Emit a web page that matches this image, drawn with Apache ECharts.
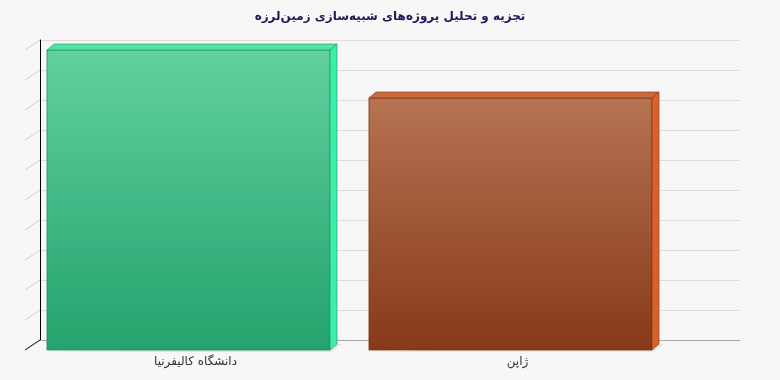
<!DOCTYPE html>
<html>
<head>
<meta charset="utf-8">
<script src="https://cdn.jsdelivr.net/npm/echarts@6/dist/echarts.min.js"></script>
<style>html,body{margin:0;padding:0;background:#f7f7f7}#c{width:780px;height:380px}</style>
</head>
<body>
<div id="c"></div>
<script>
const titleText = 'تجزیه و تحلیل پروژه‌های شبیه‌سازی زمین‌لرزه';
const categories = ['دانشگاه کالیفرنیا', 'ژاپن'];
const values = [100, 84];
const yTicks = [0, 10, 20, 30, 40, 50, 60, 70, 80, 90, 100];
const palettes = [
  {top: '#62d09f', bottom: '#23a36d', lid: '#4fe4a6', side: '#3eeea8', edge: '#1f8f5e'},
  {top: '#b77352', bottom: '#873919', lid: '#c9693e', side: '#d8622b', edge: '#7a3216'}
];

const chart = echarts.init(document.getElementById('c'), null, {renderer: 'canvas'});
const DX = 7, DY = -6, FX = -7, FY = 10;

chart.setOption({
  backgroundColor: '#f7f7f7',
  animation: false,
  title: {
    text: titleText, left: 'center', top: 6,
    textStyle: {fontFamily: 'DejaVu Sans', fontSize: 12, fontWeight: 'bold', color: '#1c1c5a'}
  },
  grid: [
    {left: 40, right: 40, top: 40, bottom: 40},
    {left: 34.5, right: 101.5, top: 40, bottom: 40}
  ],
  xAxis: [
    {type: 'value', gridIndex: 0, min: 0, max: 1, show: true,
     axisLine: {show: true, onZero: false, lineStyle: {color: '#a8a8a8', width: 1}},
     axisTick: {show: false}, axisLabel: {show: false}, splitLine: {show: false}},
    {type: 'category', gridIndex: 1, data: categories,
     axisLine: {show: false}, axisTick: {show: false},
     axisLabel: {margin: 16, fontFamily: 'DejaVu Sans', fontSize: 12, color: '#333'}}
  ],
  yAxis: [
    {type: 'value', gridIndex: 0, min: 0, max: 100, interval: 10,
     axisLine: {show: true, lineStyle: {color: '#000', width: 1}},
     axisTick: {show: false}, axisLabel: {show: false},
     splitLine: {show: true, lineStyle: {color: '#dcdcdc', width: 1}}},
    {type: 'value', gridIndex: 1, min: 0, max: 100, interval: 10, show: false}
  ],
  series: [
    {
      type: 'custom', xAxisIndex: 0, yAxisIndex: 0,
      data: yTicks.map(v => [0, v]),
      renderItem(params, api) {
        const p = api.coord([0, api.value(1)]);
        return {type: 'line', shape: {x1: p[0] - 15, y1: p[1] + 10, x2: p[0], y2: p[1]},
          style: {stroke: api.value(1) === 0 ? '#000' : '#cfcfcf', lineWidth: 1}};
      }
    },
    {
      type: 'custom', xAxisIndex: 1, yAxisIndex: 1,
      data: values.map((v, i) => [i, v]),
      renderItem(params, api) {
        const i = api.value(0), v = api.value(1);
        const pal = palettes[i];
        const topP = api.coord([i, v]);
        const baseP = api.coord([i, 0]);
        const bw = api.size([1, 0])[0] * 0.879;
        const x0 = topP[0] + FX - bw / 2, x1 = x0 + bw;
        const y0 = topP[1] + FY, y1 = baseP[1] + FY;
        return {type: 'group', children: [
          {type: 'polygon', shape: {points: [[x0 - 4, y1 + 2], [x1 + 1, y1 + 2], [x1 + DX + 5, y1 + DY], [x1 + DX, y1 + DY]]},
            style: {fill: 'rgba(0,0,0,0.07)'}},
          {type: 'rect', shape: {x: x0, y: y0, width: bw, height: y1 - y0},
            style: {fill: new echarts.graphic.LinearGradient(0, 0, 0, 1, [
              {offset: 0, color: pal.top}, {offset: 1, color: pal.bottom}]),
              stroke: pal.edge, lineWidth: 0.8}},
          {type: 'polygon', shape: {points: [[x0, y0], [x0 + DX, y0 + DY], [x1 + DX, y0 + DY], [x1, y0]]},
            style: {fill: pal.lid, stroke: pal.edge, lineWidth: 0.6}},
          {type: 'polygon', shape: {points: [[x1, y0], [x1 + DX, y0 + DY], [x1 + DX, y1 + DY], [x1, y1]]},
            style: {fill: pal.side, stroke: pal.edge, lineWidth: 0.6}}
        ]};
      }
    }
  ]
});
</script>
</body>
</html>
